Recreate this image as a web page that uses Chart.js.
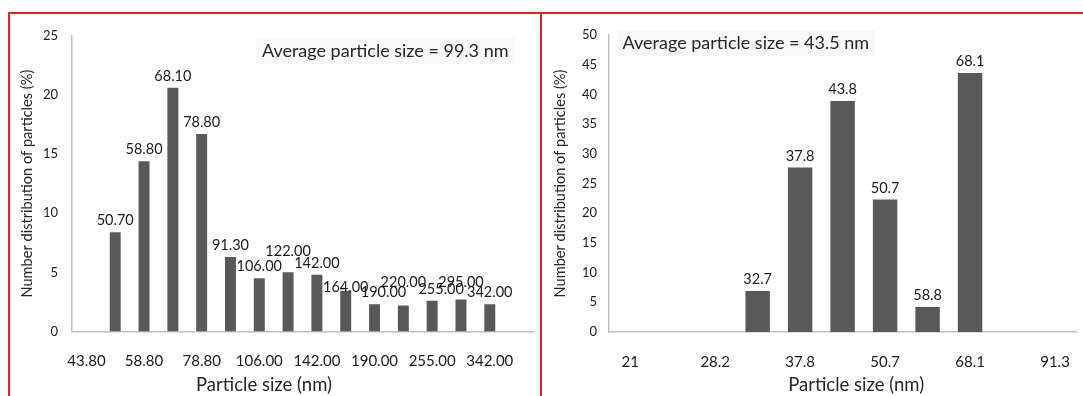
<!DOCTYPE html>
<html>
<head>
<meta charset="utf-8">
<script src="https://cdn.jsdelivr.net/npm/chart.js@4/dist/chart.umd.min.js"></script>
<style>
  html, body { margin: 0; padding: 0; background: #fff; }
  body { width: 1083px; height: 396px; overflow: hidden; position: relative; }
  .frame { position: absolute; left: 8px; top: 12px; width: 1200px; height: 500px;
           border-top: 2px solid #ee1c25; border-left: 2px solid #ee1c25; }
  .divider { position: absolute; left: 540px; top: 12px; width: 0; height: 500px; border-left: 2px solid #ee1c25; }
  .panel { position: absolute; top: 14px; height: 382px; }
  #leftWrap { left: 10px; width: 531px; }
  #rightWrap { left: 543px; width: 548px; }
</style>
</head>
<body>
<div class="frame"></div>
<div class="divider"></div>
<div class="panel" id="leftWrap"><canvas id="leftChart"></canvas></div>
<div class="panel" id="rightWrap"><canvas id="rightChart"></canvas></div>
<script>
// Left panel: particle size categories (nm) and number distribution (%)
const leftSizes = ['43.80', '50.70', '58.80', '68.10', '78.80', '91.30', '106.00', '122.00',
                   '142.00', '164.00', '190.00', '220.00', '255.00', '295.00', '342.00', ''];
const leftPct = [0, 8.4, 14.4, 20.6, 16.7, 6.3, 4.5, 5.0, 4.8, 3.45, 2.3, 2.2, 2.6, 2.7, 2.3, null];
const leftTicks = [0, 5, 10, 15, 20, 25];
const leftNote = 'Average particle size = 99.3 nm';

// Right panel
const rightSizes = ['21', '', '28.2', '32.7', '37.8', '43.8', '50.7', '58.8', '68.1', '', '91.3'];
const rightPct = [0, 0, 0, 6.9, 27.7, 38.9, 22.3, 4.2, 43.6, 0, 0];
const rightTicks = [0, 5, 10, 15, 20, 25, 30, 35, 40, 45, 50];
const rightNote = 'Average particle size = 43.5 nm';

const FONT = 'Lato';
const BAR_COLOR = '#595959';
const AXIS_COLOR = '#bfbfbf';

// Draws category names above bars, the note text and the x axis title
const barNotes = {
    id: 'barNotes',
    afterDatasetsDraw(chart, args, opts) {
        const { ctx, chartArea } = chart;
        const meta = chart.getDatasetMeta(0);
        const data = chart.data.datasets[0].data;
        ctx.save();
        ctx.fillStyle = '#1a1a1a';
        ctx.textAlign = 'center';
        ctx.textBaseline = 'middle';
        ctx.font = `14.5px ${FONT}`;
        meta.data.forEach((bar, i) => {
            if (!(data[i] > 0)) return;
            // labels that were dragged aside in the original
            const [dx, dy] = (opts.nudge && opts.nudge[i]) || [0, 0];
            ctx.fillText(chart.data.labels[i], bar.x + dx, bar.y - 11.5 + dy);
        });

        // note box
        ctx.font = `18px ${FONT}`;
        const nx = chartArea.left + opts.noteX * chartArea.width;
        const ny = chartArea.top + opts.noteY;
        const w = ctx.measureText(opts.note).width;
        ctx.fillStyle = '#f8f8f8';
        ctx.fillRect(nx - 6, ny - 13, w + 12, 26);
        ctx.fillStyle = '#262626';
        ctx.textAlign = 'left';
        ctx.fillText(opts.note, nx, ny);

        // x axis title
        ctx.font = `18.5px ${FONT}`;
        ctx.textAlign = 'center';
        ctx.fillText('Particle size (nm)', chartArea.left + opts.titleX * chartArea.width, chartArea.bottom + 53.5);
        ctx.restore();
    }
};

function makeChart(id, labels, values, ticks, cfg) {
    return new Chart(document.getElementById(id), {
        type: 'bar',
        data: {
            labels,
            datasets: [{
                data: values,
                backgroundColor: BAR_COLOR,
                borderWidth: 0,
                barPercentage: cfg.barPct,
                categoryPercentage: 1,
            }],
        },
        options: {
            responsive: true,
            maintainAspectRatio: false,
            animation: false,
            layout: { padding: { top: 21, right: cfg.padRight, left: 0, bottom: 0 } },
            plugins: {
                legend: { display: false },
                tooltip: { enabled: false },
                barNotes: { note: cfg.note, noteX: cfg.noteX, noteY: cfg.noteY, titleX: cfg.titleX, nudge: cfg.nudge },
            },
            scales: {
                x: {
                    grid: { display: false, drawTicks: false },
                    border: { color: AXIS_COLOR, width: 1.5 },
                    ticks: {
                        autoSkip: false,
                        maxRotation: 0,
                        padding: 21,
                        color: '#1a1a1a',
                        font: { family: FONT, size: 15 },
                        callback: (v, i) => (i % 2 === 0 ? labels[i] : ''),
                    },
                    afterFit: (s) => { s.height = cfg.xHeight; },
                },
                y: {
                    min: 0,
                    max: ticks[ticks.length - 1],
                    afterBuildTicks: (s) => { s.ticks = ticks.map((v) => ({ value: v })); },
                    grid: { display: false, drawTicks: false },
                    border: { color: AXIS_COLOR, width: 1.5 },
                    ticks: {
                        padding: cfg.yPad,
                        color: '#1a1a1a',
                        font: { family: FONT, size: 13 },
                    },
                    title: {
                        display: true,
                        text: 'Number distribution of particles (%)',
                        color: '#262626',
                        font: { family: FONT, size: 14.6 },
                        padding: { top: 8.2, bottom: 0 },
                    },
                    afterFit: (s) => { s.width = cfg.yWidth; },
                },
            },
        },
        plugins: [barNotes],
    });
}

makeChart('leftChart', leftSizes, leftPct, leftTicks, {
    barPct: 0.38, padRight: 8, xHeight: 64.5, yWidth: 62, yPad: 14,
    note: leftNote, noteX: 0.412, noteY: 15, titleX: 0.4165,
    nudge: { 7: [0, -10], 9: [0, 8], 10: [9, 0], 11: [0, -12], 12: [9, 0], 13: [0, -6] },
});

makeChart('rightChart', rightSizes, rightPct, rightTicks, {
    barPct: 0.575, padRight: 3.5, xHeight: 64, yWidth: 66, yPad: 12,
    note: rightNote, noteX: 0.029, noteY: 8, titleX: 0.529,
});
</script>
</body>
</html>
